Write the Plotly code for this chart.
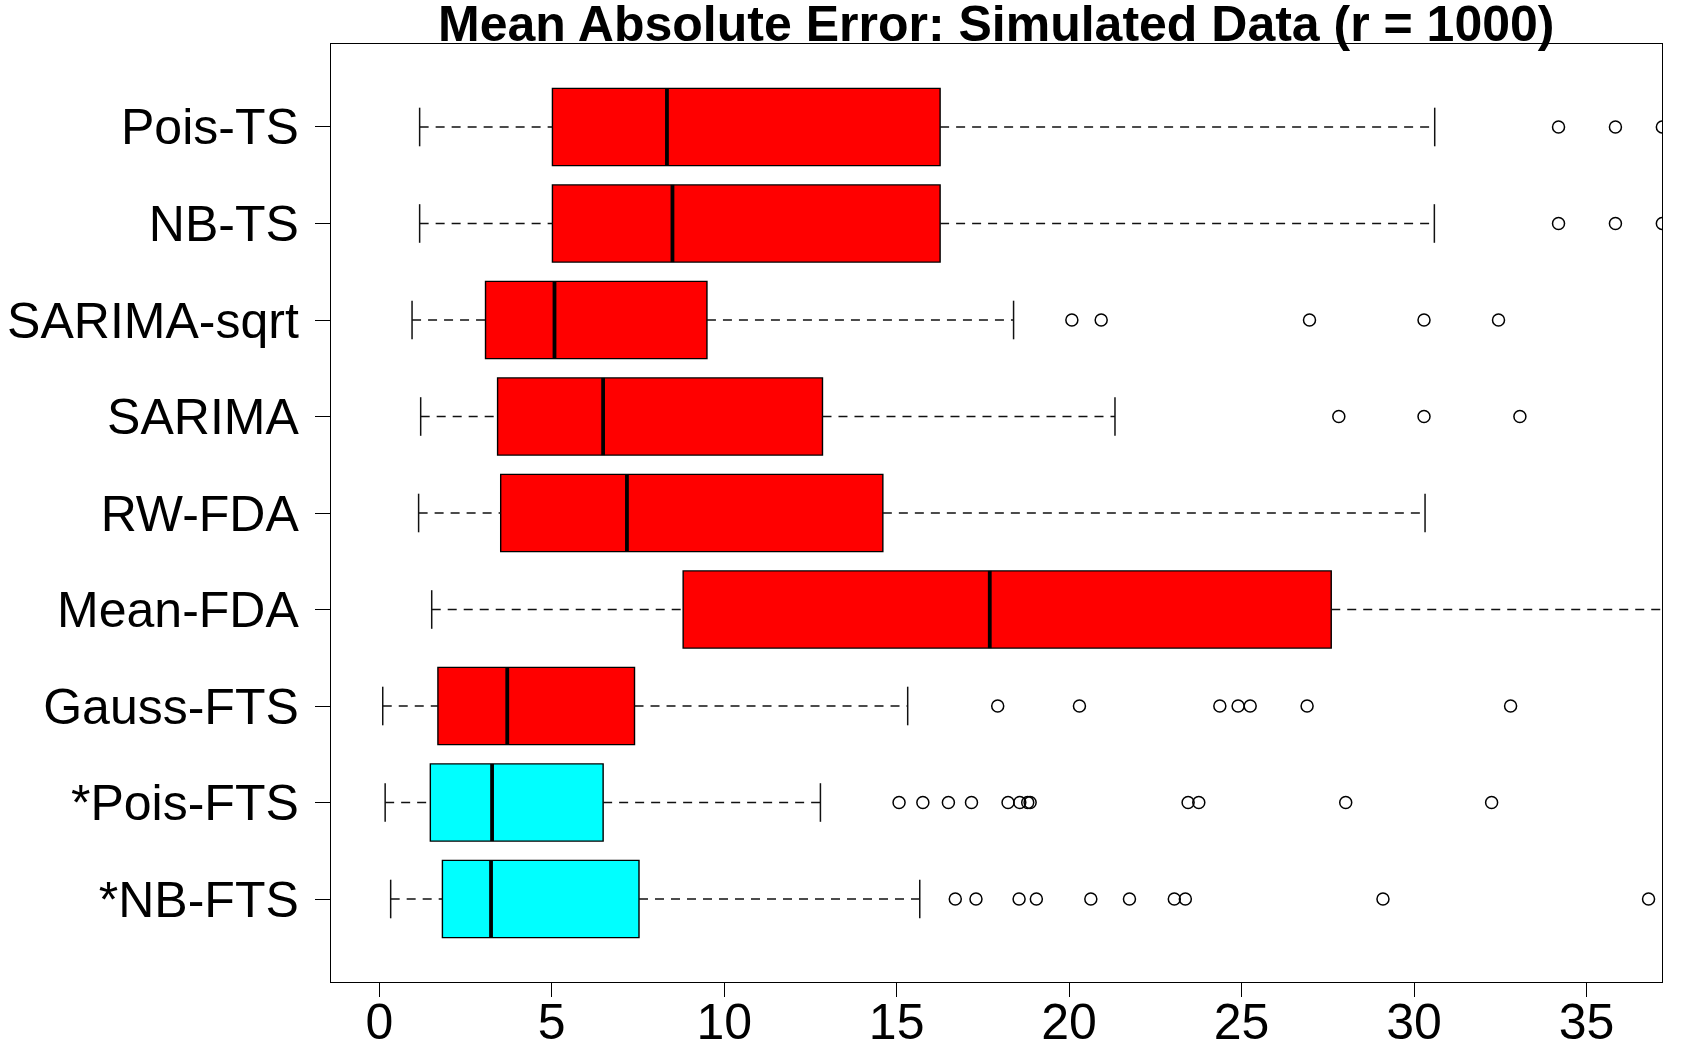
import plotly.graph_objects as go

# Categories from bottom (position 1) to top (position 9)
categories = ["*NB-FTS", "*Pois-FTS", "Gauss-FTS", "Mean-FDA", "RW-FDA",
              "SARIMA", "SARIMA-sqrt", "NB-TS", "Pois-TS"]
positions = [1, 2, 3, 4, 5, 6, 7, 8, 9]

lower_whisker = [0.33, 0.17, 0.10, 1.52, 1.14, 1.20, 0.95, 1.17, 1.17]
q1_values     = [1.83, 1.48, 1.70, 8.81, 3.52, 3.43, 3.08, 5.02, 5.02]
medians       = [3.24, 3.27, 3.71, 17.70, 7.18, 6.49, 5.08, 8.50, 8.34]
q3_values     = [7.53, 6.49, 7.40, 27.60, 14.60, 12.85, 9.50, 16.26, 16.26]
upper_whisker = [15.67, 12.79, 15.32, 38.50, 30.32, 21.33, 18.39, 30.59, 30.60]

outliers_nb_fts   = [16.7, 17.3, 18.55, 19.05, 20.63, 21.75, 23.05, 23.37, 29.1, 36.8]
outliers_pois_fts = [15.07, 15.76, 16.5, 17.17, 18.23, 18.57, 18.8, 18.87, 23.45, 23.76, 28.02, 32.25]
outliers_gauss    = [17.93, 20.3, 24.37, 24.9, 25.25, 26.9, 32.8]
outliers_mean_fda = []
outliers_rw_fda   = []
outliers_sarima   = [27.82, 30.29, 33.07]
outliers_sqrt     = [20.08, 20.93, 26.97, 30.29, 32.45]
outliers_nb_ts    = [34.19, 35.84, 37.2]
outliers_pois_ts  = [34.19, 35.84, 37.2]
outliers = [outliers_nb_fts, outliers_pois_fts, outliers_gauss, outliers_mean_fda,
            outliers_rw_fda, outliers_sarima, outliers_sqrt, outliers_nb_ts, outliers_pois_ts]

box_colors = ["#00FFFF", "#00FFFF", "#FF0000", "#FF0000", "#FF0000",
              "#FF0000", "#FF0000", "#FF0000", "#FF0000"]

x_ticks = [0, 5, 10, 15, 20, 25, 30, 35]

BOX_W = 0.8
CAP = 0.2
FONT = "Liberation Sans, Arial, Helvetica, sans-serif"

fig = go.Figure()

# Dashed whiskers
wx, wy = [], []
for p, lo, a, b, hi in zip(positions, lower_whisker, q1_values, q3_values, upper_whisker):
    wx += [lo, a, None, b, hi, None]
    wy += [p, p, None, p, p, None]
fig.add_trace(go.Scatter(x=wx, y=wy, mode="lines",
                         line=dict(color="#111111", width=1.5, dash="9px,7px"),
                         hoverinfo="skip", showlegend=False))

# Whisker staples
cx, cy = [], []
for p, lo, hi in zip(positions, lower_whisker, upper_whisker):
    cx += [lo, lo, None, hi, hi, None]
    cy += [p - CAP, p + CAP, None, p - CAP, p + CAP, None]
fig.add_trace(go.Scatter(x=cx, y=cy, mode="lines",
                         line=dict(color="#111111", width=1.5),
                         hoverinfo="skip", showlegend=False))

# Boxes
for p, a, m, b, col, name in zip(positions, q1_values, medians, q3_values, box_colors, categories):
    fig.add_trace(go.Box(
        y=[p], q1=[a], median=[m], q3=[b], lowerfence=[a], upperfence=[b],
        orientation="h", width=BOX_W, fillcolor=col,
        line=dict(color="black", width=1.4), whiskerwidth=0,
        boxpoints=False, name=name, showlegend=False, hoverinfo="skip"))

# Thick medians
mx, my = [], []
for p, m in zip(positions, medians):
    mx += [m, m, None]
    my += [p - BOX_W / 2, p + BOX_W / 2, None]
fig.add_trace(go.Scatter(x=mx, y=my, mode="lines",
                         line=dict(color="black", width=3.8),
                         hoverinfo="skip", showlegend=False))

# Outliers
ox, oy = [], []
for p, vals in zip(positions, outliers):
    ox += vals
    oy += [p] * len(vals)
fig.add_trace(go.Scatter(x=ox, y=oy, mode="markers",
                         marker=dict(symbol="circle-open", size=12, color="black",
                                     line=dict(width=1.5, color="black")),
                         hoverinfo="skip", showlegend=False, cliponaxis=True))

fig.update_layout(
    width=1692, height=1058,
    margin=dict(l=331, r=30, t=44, b=76),
    paper_bgcolor="white", plot_bgcolor="white",
    font=dict(family=FONT, color="black"),
    showlegend=False,
    xaxis=dict(range=[-1.40, 37.19], tickvals=x_ticks, ticktext=[str(t) for t in x_ticks],
               showgrid=False, zeroline=False, showline=True, mirror=True,
               linecolor="black", linewidth=1.4, ticks="outside", ticklen=14,
               tickwidth=1.4, tickcolor="black", tickfont=dict(size=50, family=FONT),
               ticklabelstandoff=-18, automargin=False),
    yaxis=dict(range=[0.14, 9.86], tickvals=positions, ticktext=categories,
               showgrid=False, zeroline=False, showline=True, mirror=True,
               linecolor="black", linewidth=1.4, ticks="outside", ticklen=15,
               tickwidth=1.4, tickcolor="black", tickfont=dict(size=50, family=FONT),
               ticklabelstandoff=6, automargin=False),
    annotations=[dict(text="<b>Mean Absolute Error: Simulated Data (r = 1000)</b>",
                      x=0.5, y=1, xref="paper", yref="paper", xanchor="center",
                      yanchor="bottom", yshift=-10, showarrow=False,
                      font=dict(size=50, family=FONT, color="black"))],
)

fig.write_html("out.html")
